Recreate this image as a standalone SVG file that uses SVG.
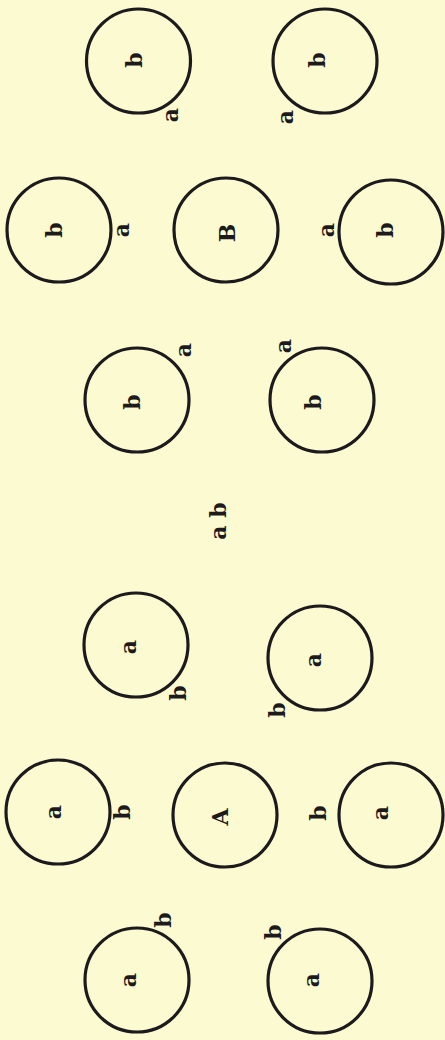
<svg xmlns="http://www.w3.org/2000/svg" width="445" height="1040" viewBox="0 0 445 1040">
<style>
.bg{fill:#fcfad0}
.c{fill:none;stroke:#1c1a1c;stroke-width:3.2}
.t{font-family:"DejaVu Serif","Liberation Serif",serif;font-weight:bold;font-size:22px;fill:#1c1a1c;text-anchor:middle}
</style>
<rect class="bg" x="0" y="0" width="445" height="1040"/>
<g id="n-b1"><circle class="c" cx="138.5" cy="61" r="52"/><text class="t" transform="translate(142,60) rotate(-90)">b</text></g>
<g id="n-b2"><circle class="c" cx="325" cy="61" r="52"/><text class="t" transform="translate(325,60) rotate(-90)">b</text></g>
<g id="lbl-a1"><text class="t" transform="translate(177.5,115) rotate(-90)">a</text></g>
<g id="lbl-a2"><text class="t" transform="translate(292.5,117) rotate(-90)">a</text></g>
<g id="n-b3"><circle class="c" cx="59" cy="230" r="52"/><text class="t" transform="translate(62,230) rotate(-90)">b</text></g>
<g id="n-B"><circle class="c" cx="226" cy="230" r="52"/><text class="t" transform="translate(235,233) rotate(-90)">B</text></g>
<g id="n-b4"><circle class="c" cx="391" cy="232" r="52"/><text class="t" transform="translate(393,230) rotate(-90)">b</text></g>
<g id="lbl-a3"><text class="t" transform="translate(128.5,230) rotate(-90)">a</text></g>
<g id="lbl-a4"><text class="t" transform="translate(333.5,230) rotate(-90)">a</text></g>
<g id="n-b5"><circle class="c" cx="137" cy="400" r="52"/><text class="t" transform="translate(140,402) rotate(-90)">b</text></g>
<g id="n-b6"><circle class="c" cx="322" cy="400" r="52"/><text class="t" transform="translate(321,402) rotate(-90)">b</text></g>
<g id="lbl-a5"><text class="t" transform="translate(190.5,350) rotate(-90)">a</text></g>
<g id="lbl-a6"><text class="t" transform="translate(290.5,346) rotate(-90)">a</text></g>
<g id="lbl-ab"><text class="t" transform="translate(226,521) rotate(-90)">a b</text></g>
<g id="n-a1"><circle class="c" cx="136" cy="645" r="52"/><text class="t" transform="translate(135.5,647) rotate(-90)">a</text></g>
<g id="n-a2"><circle class="c" cx="320" cy="658" r="52"/><text class="t" transform="translate(320.5,660) rotate(-90)">a</text></g>
<g id="lbl-b1"><text class="t" transform="translate(186,693) rotate(-90)">b</text></g>
<g id="lbl-b2"><text class="t" transform="translate(285,710) rotate(-90)">b</text></g>
<g id="n-a3"><circle class="c" cx="58" cy="812" r="52"/><text class="t" transform="translate(60.5,812) rotate(-90)">a</text></g>
<g id="n-A"><circle class="c" cx="225" cy="815" r="52"/><text class="t" transform="translate(228,817) rotate(-90)">A</text></g>
<g id="n-a4"><circle class="c" cx="391" cy="815" r="52"/><text class="t" transform="translate(387.5,813) rotate(-90)">a</text></g>
<g id="lbl-b3"><text class="t" transform="translate(130,812) rotate(-90)">b</text></g>
<g id="lbl-b4"><text class="t" transform="translate(326,813) rotate(-90)">b</text></g>
<g id="n-a5"><circle class="c" cx="137" cy="980" r="52"/><text class="t" transform="translate(135.5,980) rotate(-90)">a</text></g>
<g id="n-a6"><circle class="c" cx="320" cy="981" r="52"/><text class="t" transform="translate(318.5,980) rotate(-90)">a</text></g>
<g id="lbl-b5"><text class="t" transform="translate(171,920) rotate(-90)">b</text></g>
<g id="lbl-b6"><text class="t" transform="translate(281,932) rotate(-90)">b</text></g>
</svg>
